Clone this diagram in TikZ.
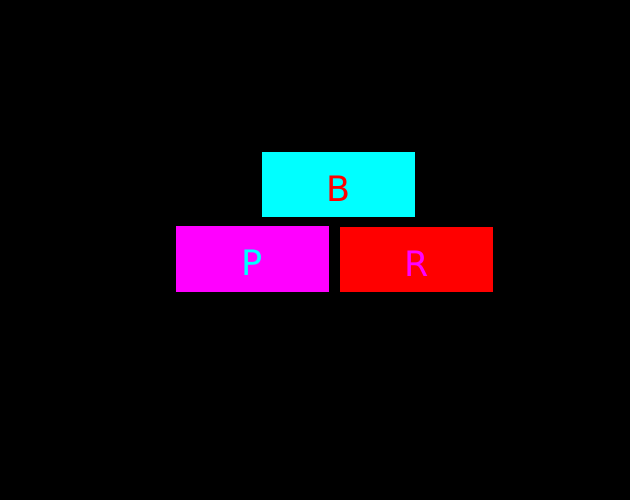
\documentclass[tikz,border=0pt]{standalone}
\usepackage{fontspec}
\setmainfont{DejaVu Sans}
\usetikzlibrary{positioning}
\definecolor{boxcyan}{RGB}{0,255,255}
\definecolor{boxmagenta}{RGB}{255,0,255}
\definecolor{boxred}{RGB}{255,0,0}

\begin{document}
\begin{tikzpicture}[x=1pt,y=-1pt,box node/.style={rectangle,inner sep=0pt,minimum width=153pt,minimum height=65.5pt,text height=34pt,text depth=0pt,font=\fontsize{35}{42}\selectfont}]
            \fill[black] (0,0) rectangle (630,500);
            \node[box node,fill=boxcyan,text=boxred] (B) at (338.5,184.7) {B};
            \node[box node,fill=boxmagenta,text=boxcyan] (P) at (252.5,258.9) {P};
            \node[box node,fill=boxred,text=boxmagenta] (R) at (416.5,259.7) {R};
        \end{tikzpicture}
\end{document}
